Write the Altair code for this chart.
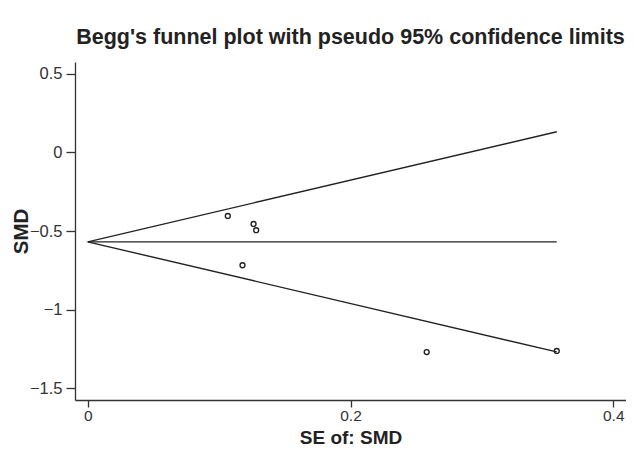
import altair as alt
import pandas as pd

# Study estimates (SE of SMD, SMD)
se_values = [0.1066, 0.1262, 0.1282, 0.1178, 0.258, 0.357]
smd_values = [-0.404, -0.455, -0.495, -0.718, -1.270, -1.263]

# Funnel lines: pooled estimate and pseudo 95% limits, endpoints at SE 0 and max SE
line_series = ["center", "center", "upper", "upper", "lower", "lower"]
line_se = [0.0, 0.357, 0.0, 0.357, 0.0, 0.357]
line_smd = [-0.569, -0.569, -0.569, 0.131, -0.569, -1.269]

x_ticks = [0, 0.2, 0.4]
y_ticks = [-1.5, -1, -0.5, 0, 0.5]

pts = pd.DataFrame({"se": se_values, "smd": smd_values})
lines = pd.DataFrame({"series": line_series, "se": line_se, "smd": line_smd})

FONT = "Liberation Sans"

xscale = alt.Scale(domain=[-0.0097, 0.4097], nice=False, zero=False)
yscale = alt.Scale(domain=[-1.575, 0.575], nice=False, zero=False)

xaxis = alt.Axis(values=x_ticks, format="~g", title="SE of: SMD", grid=False,
                 tickSize=7, labelPadding=1, labelFontSize=15.5,
                 titleFontSize=19, titleBaseline="alphabetic", titleY=43)
yaxis = alt.Axis(values=y_ticks, format="~g", title="SMD", grid=False,
                 tickSize=9, labelPadding=4,
                 titleBaseline="alphabetic", titleX=-48)

line_layer = alt.Chart(lines).mark_line(color="#222222", strokeWidth=1.4).encode(
    x=alt.X("se:Q", scale=xscale, axis=xaxis),
    y=alt.Y("smd:Q", scale=yscale, axis=yaxis),
    detail="series:N",
)

point_layer = alt.Chart(pts).mark_point(
    shape="circle", filled=False, color="#222222", size=24, strokeWidth=1.4, opacity=1
).encode(
    x=alt.X("se:Q", scale=xscale),
    y=alt.Y("smd:Q", scale=yscale),
)

chart = alt.layer(line_layer, point_layer).properties(
    width=551,
    height=338,
    autosize=alt.AutoSizeParams(type="none"),
    padding={"left": 67, "top": 54, "right": 0, "bottom": 47},
    title=alt.TitleParams(
        "Begg's funnel plot with pseudo 95% confidence limits",
        anchor="middle", frame="group", font=FONT, fontSize=21.5,
        fontWeight="bold", color="#222222", offset=14,
    ),
).configure_view(stroke=None).configure_axis(
    domainColor="#333333", tickColor="#333333", domainWidth=1.3, tickWidth=1.3,
    labelFont=FONT, labelFontSize=16.5, labelColor="#333333",
    titleFont=FONT, titleFontSize=20.5, titleFontWeight="bold", titleColor="#222222",
)

chart.save("out.html", embed_options={"renderer": "svg", "actions": False})
